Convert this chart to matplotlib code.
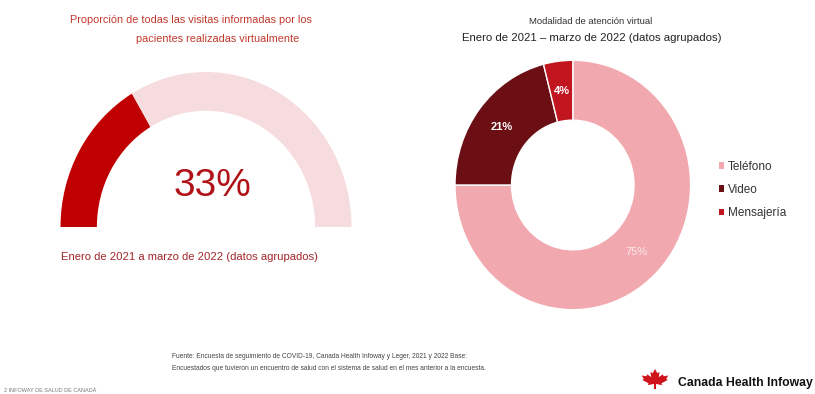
import numpy as np
import matplotlib.pyplot as plt
from matplotlib.patches import Polygon

plt.rcParams['font.family'] = ['Liberation Sans', 'DejaVu Sans']

# Share of all patient-reported visits done virtually
virtual_share = 33

# Virtual care modality breakdown
modalities = ['Teléfono', 'Video', 'Mensajería']
modality_pct = [75, 21, 4]
modality_colors = ['#F1A8AF', '#6B0F15', '#C1151F']

W, H = 815, 394
fig = plt.figure(figsize=(W / 100, H / 100), dpi=100)
fig.patch.set_facecolor('white')


def px_axes(cx, cy, rx, ry):
    # axes whose [-1, 1] box maps onto a pixel ellipse centred at (cx, cy) from top-left
    return fig.add_axes([(cx - rx) / W, (H - cy - ry) / H, 2 * rx / W, 2 * ry / H])


# ---- gauge (left) ----
gax = px_axes(206, 227, 145.5, 155)
gauge_vals = [virtual_share, 100 - virtual_share, 100]
wedges, _ = gax.pie(gauge_vals, startangle=180, counterclock=False,
                    colors=['#C00000', '#F6DCDE', 'white'],
                    wedgeprops=dict(width=0.25, linewidth=0))
wedges[2].set_visible(False)
gax.set_aspect('auto')
gax.set_xlim(-1, 1)
gax.set_ylim(-1, 1)
gax.axis('off')

fig.text(191 / W, 1 - 20 / H, 'Proporción de todas las visitas informadas por los',
         ha='center', va='center', fontsize=7.8, color='#C0392B')
fig.text(218 / W, 1 - 39 / H, 'pacientes realizadas virtualmente',
         ha='center', va='center', fontsize=7.8, color='#C0392B')
fig.text(212 / W, 1 - 186 / H, f'{virtual_share}%', ha='center', va='center',
         fontsize=28, color='#B01217')
fig.text(189 / W, 1 - 257 / H, 'Enero de 2021 a marzo de 2022 (datos agrupados)',
         ha='center', va='center', fontsize=8.1, color='#A2262B')

# ---- donut (right) ----
dax = px_axes(572.8, 185, 117.8, 124.7)
wedges, _, autotexts = dax.pie(modality_pct, startangle=90, counterclock=False,
                               colors=modality_colors, autopct='%d%%', pctdistance=0.76,
                               wedgeprops=dict(width=0.48, edgecolor='white', linewidth=1),
                               textprops=dict(color='white', fontsize=8, fontweight='bold'))
autotexts[0].set_fontweight('normal')
autotexts[0].set_color('#FBE9EB')
dax.set_aspect('auto')
dax.set_xlim(-1, 1)
dax.set_ylim(-1, 1)
dax.axis('off')

fig.text(591 / W, 1 - 21 / H, 'Modalidad de atención virtual',
         ha='center', va='center', fontsize=6.8, color='#333333')
fig.text(592 / W, 1 - 38 / H, 'Enero de 2021 – marzo de 2022 (datos agrupados)',
         ha='center', va='center', fontsize=8.2, color='#222222')

leg = fig.legend(wedges, modalities, loc='upper left', bbox_to_anchor=(708 / W, 1 - 150 / H),
                 frameon=False, fontsize=8.5, handlelength=0.45, handleheight=0.45,
                 handletextpad=0.35, labelspacing=0.95, labelcolor='#333333')
for h in leg.legend_handles:
    h.set_edgecolor('none')

# ---- footer ----
fig.text(172 / W, 1 - 356 / H,
         'Fuente: Encuesta de seguimiento de COVID-19, Canada Health Infoway y Leger, 2021 y 2022 Base:',
         ha='left', va='center', fontsize=4.8, color='#444444')
fig.text(172 / W, 1 - 369 / H,
         'Encuestados que tuvieron un encuentro de salud con el sistema de salud en el mes anterior a la encuesta.',
         ha='left', va='center', fontsize=4.8, color='#444444')
fig.text(4 / W, 1 - 391 / H, '2 INFOWAY DE SALUD DE CANADÁ',
         ha='left', va='center', fontsize=4, color='#777777')

# maple leaf mark + wordmark
half = [(0, 1.0), (0.13, 0.76), (0.27, 0.82), (0.22, 0.52), (0.45, 0.68), (0.52, 0.57),
        (0.78, 0.62), (0.66, 0.42), (0.74, 0.35), (0.38, 0.16), (0.43, 0.05), (0.06, 0.12),
        (0.06, -0.18)]
leaf = half + [(-x, y) for x, y in reversed(half)]
lx, ly, s = 655, 386, 17
pts = [((lx + x * s) / W, (H - ly + y * s) / H) for x, y in leaf]
fig.patches.append(Polygon(pts, closed=True, transform=fig.transFigure,
                           facecolor='#D0121B', edgecolor='none'))
fig.text(678 / W, 1 - 383 / H, 'Canada Health Infoway', ha='left', va='center',
         fontsize=8.8, fontweight='bold', color='#111111')

fig.savefig('out.png', dpi=100, facecolor='white')
